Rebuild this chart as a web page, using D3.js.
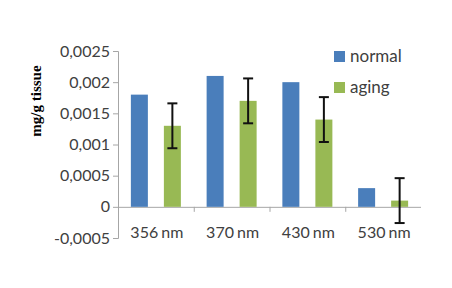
<!DOCTYPE html>
<html>
<head>
<meta charset="utf-8">
<script src="https://cdn.jsdelivr.net/npm/d3@7"></script>
<style>
  body { margin: 0; background: #fff; }
  svg text { fill: #404040; }
</style>
</head>
<body>
<div id="chart"></div>
<script>
// data
const categories = ['356 nm', '370 nm', '430 nm', '530 nm'];
const seriesNames = ['normal', 'aging'];
const normalValues = [0.0018, 0.0021, 0.0020, 0.0003];
const agingValues = [0.0013, 0.0017, 0.0014, 0.0001];
const agingErrors = [0.00036, 0.00036, 0.00036, 0.00036];
const yTicks = [-0.0005, 0, 0.0005, 0.001, 0.0015, 0.002, 0.0025];
const colors = ['#4a7ebb', '#98b954'];

const width = 452, height = 288;
const margin = [51, 50, 118, 31]; // top, bottom, left, right
const font = 'Lato, "Open Sans", sans-serif';

const svg = d3.select('#chart').append('svg')
    .attr('width', width)
    .attr('height', height);

const chartW = width - margin[2] - margin[3],
      chartH = height - margin[0] - margin[1];

const scaleX = d3.scaleBand(categories, [0, chartW]);
const scaleS = d3.scaleBand(seriesNames, [0, scaleX.bandwidth()])
    .paddingInner(0.485).paddingOuter(0.39);
const scaleY = d3.scaleLinear([-0.0005, 0.0025], [chartH, 0]);

const fmt = v => v === 0 ? '0' : String(+v.toFixed(4)).replace('.', ',');

const chart = svg.append('g')
    .attr('transform', `translate(${margin[2]}, ${margin[0]})`);

// y axis
const axisY = chart.append('g')
    .call(d3.axisLeft(scaleY).tickValues(yTicks).tickFormat(fmt).tickSize(5).tickPadding(3));
axisY.select('.domain').attr('stroke', '#a6a6a6').attr('d', `M-5,0.5H0.5V${chartH + 0.5}H-5`);
axisY.selectAll('.tick line').attr('stroke', '#a6a6a6');
axisY.selectAll('.tick text')
    .style('font-family', font)
    .style('font-size', '16px')
    .style('fill', '#404040');

// x axis at zero
const zeroY = scaleY(0);
const axisX = chart.append('g')
    .attr('transform', `translate(0, ${zeroY})`);
axisX.append('line')
    .attr('x1', 0).attr('x2', chartW)
    .attr('y1', 0.5).attr('y2', 0.5)
    .attr('stroke', '#a6a6a6');
axisX.selectAll('line.tk')
    .data(categories.slice(1))
    .join('line')
    .classed('tk', true)
    .attr('x1', d => scaleX(d) + 0.5).attr('x2', d => scaleX(d) + 0.5)
    .attr('y1', 0).attr('y2', 5)
    .attr('stroke', '#a6a6a6');

// category labels
chart.selectAll('text.cat')
    .data(categories)
    .join('text')
    .classed('cat', true)
    .attr('x', d => scaleX(d) + scaleX.bandwidth() / 2 + 1)
    .attr('y', chartH)
    .attr('text-anchor', 'middle')
    .style('font-family', font)
    .style('font-size', '16px')
    .style('word-spacing', '-1px')
    .text(d => d);

// bars
const rows = categories.map((c, i) => ({
    cat: c,
    vals: [
        { s: 'normal', v: normalValues[i], c: colors[0] },
        { s: 'aging', v: agingValues[i], c: colors[1], e: agingErrors[i] }
    ]
}));

const groups = chart.selectAll('g.grp')
    .data(rows)
    .join('g')
    .classed('grp', true)
    .attr('transform', d => `translate(${scaleX(d.cat)}, 0)`);

groups.selectAll('rect')
    .data(d => d.vals)
    .join('rect')
    .attr('x', d => scaleS(d.s))
    .attr('width', scaleS.bandwidth())
    .attr('y', d => scaleY(Math.max(0, d.v)))
    .attr('height', d => Math.abs(scaleY(d.v) - scaleY(0)))
    .attr('fill', d => d.c);

// error bars
const err = groups.selectAll('g.err')
    .data(d => d.vals.filter(v => v.e))
    .join('g')
    .classed('err', true)
    .attr('transform', d => `translate(${scaleS(d.s) + scaleS.bandwidth() / 2}, 0)`);
err.append('line')
    .attr('y1', d => scaleY(d.v + d.e)).attr('y2', d => scaleY(d.v - d.e));
err.append('line')
    .attr('x1', -5).attr('x2', 5)
    .attr('y1', d => scaleY(d.v + d.e)).attr('y2', d => scaleY(d.v + d.e));
err.append('line')
    .attr('x1', -5).attr('x2', 5)
    .attr('y1', d => scaleY(d.v - d.e)).attr('y2', d => scaleY(d.v - d.e));
err.selectAll('line').attr('stroke', '#111').attr('stroke-width', 2);

// legend
const legend = svg.append('g')
    .attr('transform', 'translate(334, 51)')
    .selectAll('g')
    .data(seriesNames)
    .join('g')
    .attr('transform', (_, i) => `translate(0, ${i * 31})`);
legend.append('rect')
    .attr('width', 11).attr('height', 11)
    .attr('fill', (_, i) => colors[i]);
legend.append('text')
    .attr('x', 16).attr('y', 5)
    .attr('dy', '0.35em')
    .style('font-family', font)
    .style('font-size', '17px')
    .text(d => d);

// y label
svg.append('text')
    .attr('transform', `translate(41, 101)rotate(-90)`)
    .attr('text-anchor', 'middle')
    .style('font-family', '"Liberation Serif", "DejaVu Serif", serif')
    .style('font-size', '15px')
    .style('font-weight', 'bold')
    .style('fill', '#000')
    .text('mg/g tissue');
</script>
</body>
</html>
